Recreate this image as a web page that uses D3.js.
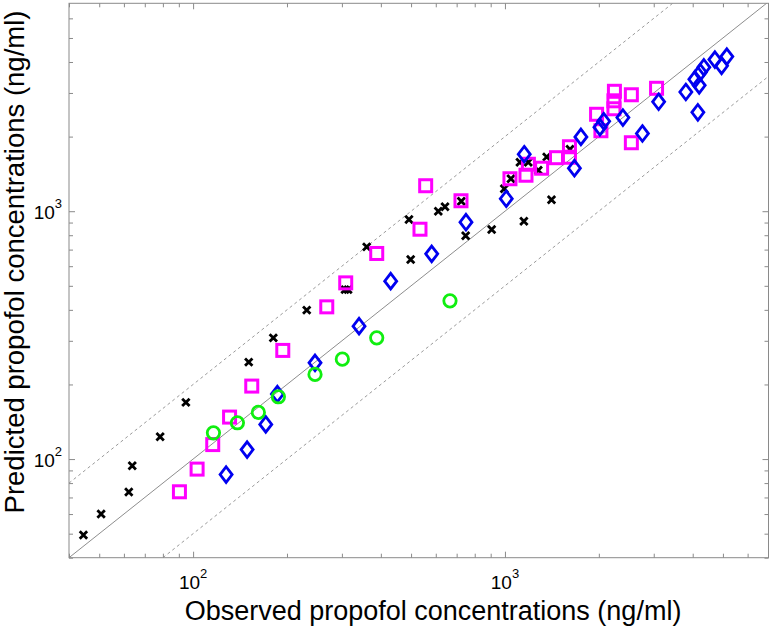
<!DOCTYPE html>
<html><head><meta charset="utf-8">
<script src="https://cdn.jsdelivr.net/npm/d3@7"></script>
<style>body{margin:0;background:#fff}</style>
</head><body>
<svg id="chart" width="776" height="626"></svg>
<script>
// ---- data ----
const xDomain = [40, 7000];
const yDomain = [40, 6900];
const majorTicks = [100, 1000];
const majorTickExponents = ["2", "3"];
const minorTicks = [40,50,60,70,80,90,200,300,400,500,600,700,800,900,2000,3000,4000,5000,6000];
const xLabel = "Observed propofol concentrations (ng/ml)";
const yLabel = "Predicted propofol concentrations (ng/ml)";
const refRatios = [1, 2, 0.5];

const blackObs  = [44.5,50.7,62.2,63.8,78.4,94.8,150.8,180.8,231.4,307,314,360.3,492.3,498.5,611.3,642.3,724.4,748.2,906.5,995,1045,1117,1150,1188,1279,1361,1410,1616];
const blackPred = [49.4,60.0,73.6,94.0,123.0,169.3,246.1,308.4,398.9,482.5,482.5,717.8,925.7,638.7,1000,1042.6,1097.3,796.4,843.7,1232,1352,1576,911,1576,1463,1656,1113,1778];

const magentaObs  = [90.4,103,115.6,130.9,154.2,193.9,268.3,308.6,388,534,556.9,722.8,1037.6,1168,1189,1311,1463,1610,1610,1967,2031,2244,2236,2236,2543,3063,2543];
const magentaPred = [73.8,91.1,114.4,147.7,197,274.4,411.3,513.9,675.3,846,1267,1102,1352,1397,1547,1491,1644,1820,1651,2461,2112,3047,2789,2590,2950,3133,1889];

const blueObs  = [127.6,149,171,186.3,246,340.5,430.1,582.2,749.9,1009.7,1153,1670,1752,2016,2073,2389,2759,3110,3802,4064,4196,4233,4343,4155,4712,4950,5146];
const bluePred = [86.6,109.2,138,182.9,244.5,343.8,522.1,672.8,902.9,1123,1698,1491,1994,2182,2307,2387,2058,2764,3027,3406,3221,3635,3807,2507,4090,3861,4205];

const greenObs  = [116.2,138.7,161.9,187.7,246,301,388,666.4];
const greenPred = [127.6,140.1,154.3,178.4,219.6,253,308.4,434.9];

// ---- layout ----
const L = 69, R = 768.5, T = 3.3, B = 557.7;
const axisColor = "#8a8a8a";
const svg = d3.select("#chart");
const x = d3.scaleLog().domain(xDomain).range([L, R]);
const y = d3.scaleLog().domain(yDomain).range([B, T]);

svg.append("defs").append("clipPath").attr("id","clip")
  .append("rect").attr("x",L).attr("y",T).attr("width",R-L).attr("height",B-T);

// reference lines
const refG = svg.append("g").attr("clip-path","url(#clip)");
refRatios.forEach(r => {
  refG.append("line")
    .attr("x1", x(xDomain[0])).attr("y1", y(xDomain[0]*r))
    .attr("x2", x(xDomain[1])).attr("y2", y(xDomain[1]*r))
    .attr("stroke", r === 1 ? "#707070" : "#808080")
    .attr("stroke-width", 0.8)
    .attr("stroke-dasharray", r === 1 ? null : "3,3");
});

// axes (ticks inward, all four sides)
function styleAxis(g){
  g.select(".domain").remove();
  g.selectAll("line").attr("stroke", axisColor);
  g.selectAll("text").remove();
}
const majLen = 6, minLen = 4;
const yMinor = minorTicks.filter(v => v < yDomain[1]);
svg.append("g").attr("transform",`translate(0,${B})`).call(d3.axisBottom(x).tickValues(majorTicks).tickSize(-majLen)).call(styleAxis);
svg.append("g").attr("transform",`translate(0,${B})`).call(d3.axisBottom(x).tickValues(minorTicks).tickSize(-minLen)).call(styleAxis);
svg.append("g").attr("transform",`translate(0,${T})`).call(d3.axisTop(x).tickValues(majorTicks).tickSize(-majLen)).call(styleAxis);
svg.append("g").attr("transform",`translate(0,${T})`).call(d3.axisTop(x).tickValues(minorTicks).tickSize(-minLen)).call(styleAxis);
svg.append("g").attr("transform",`translate(${L},0)`).call(d3.axisLeft(y).tickValues(majorTicks).tickSize(-majLen)).call(styleAxis);
svg.append("g").attr("transform",`translate(${L},0)`).call(d3.axisLeft(y).tickValues(yMinor).tickSize(-minLen)).call(styleAxis);
svg.append("g").attr("transform",`translate(${R},0)`).call(d3.axisRight(y).tickValues(majorTicks).tickSize(-majLen)).call(styleAxis);
svg.append("g").attr("transform",`translate(${R},0)`).call(d3.axisRight(y).tickValues(yMinor).tickSize(-minLen)).call(styleAxis);

svg.append("rect").attr("x",L).attr("y",T).attr("width",R-L).attr("height",B-T)
  .attr("fill","none").attr("stroke",axisColor).attr("stroke-width",1);

// tick labels
const font = "'Liberation Sans', Arial, Helvetica, sans-serif";
majorTicks.forEach((v,i) => {
  const t = svg.append("text").attr("x", x(v)).attr("y", 589)
    .attr("text-anchor","middle").attr("font-family",font).attr("font-size",19).attr("fill","#000");
  t.append("tspan").text("10");
  t.append("tspan").attr("dy",-11.5).attr("font-size",13).text(majorTickExponents[i]);
  const u = svg.append("text").attr("x", 62).attr("y", y(v)+8)
    .attr("text-anchor","end").attr("font-family",font).attr("font-size",19).attr("fill","#000");
  u.append("tspan").text("10");
  u.append("tspan").attr("dy",-11.5).attr("font-size",13).text(majorTickExponents[i]);
});

// axis labels
svg.append("text").attr("x",433).attr("y",620).attr("text-anchor","middle")
  .attr("font-family",font).attr("font-size",27).attr("fill","#000").text(xLabel);
svg.append("text").attr("transform","translate(24,262) rotate(-90)").attr("text-anchor","middle")
  .attr("font-family",font).attr("font-size",27.5).attr("fill","#000").text(yLabel);

// markers
const plotG = svg.append("g");
const blackData = blackObs.map((v,i)=>({o:v,p:blackPred[i]}));
const magentaData = magentaObs.map((v,i)=>({o:v,p:magentaPred[i]}));
const blueData = blueObs.map((v,i)=>({o:v,p:bluePred[i]}));
const greenData = greenObs.map((v,i)=>({o:v,p:greenPred[i]}));

plotG.selectAll(".bx").data(blackData).join("path").attr("class","bx")
  .attr("transform",d=>`translate(${x(d.o)},${y(d.p)})`)
  .attr("d","M-3.7,-3.7L3.7,3.7M-3.7,3.7L3.7,-3.7")
  .attr("stroke","#000").attr("stroke-width",2.8).attr("fill","none");

plotG.selectAll(".sq").data(magentaData).join("rect").attr("class","sq")
  .attr("x",d=>x(d.o)-6).attr("y",d=>y(d.p)-6).attr("width",12).attr("height",12)
  .attr("fill","none").attr("stroke","#ff00ff").attr("stroke-width",3);

plotG.selectAll(".dm").data(blueData).join("path").attr("class","dm")
  .attr("transform",d=>`translate(${x(d.o)},${y(d.p)})`)
  .attr("d","M0,-7.8L6,0L0,7.8L-6,0Z")
  .attr("fill","none").attr("stroke","#0000f0").attr("stroke-width",2.8);

plotG.selectAll(".ci").data(greenData).join("circle").attr("class","ci")
  .attr("cx",d=>x(d.o)).attr("cy",d=>y(d.p)).attr("r",6.2)
  .attr("fill","none").attr("stroke","#10ee10").attr("stroke-width",2.8);
</script>
</body></html>
